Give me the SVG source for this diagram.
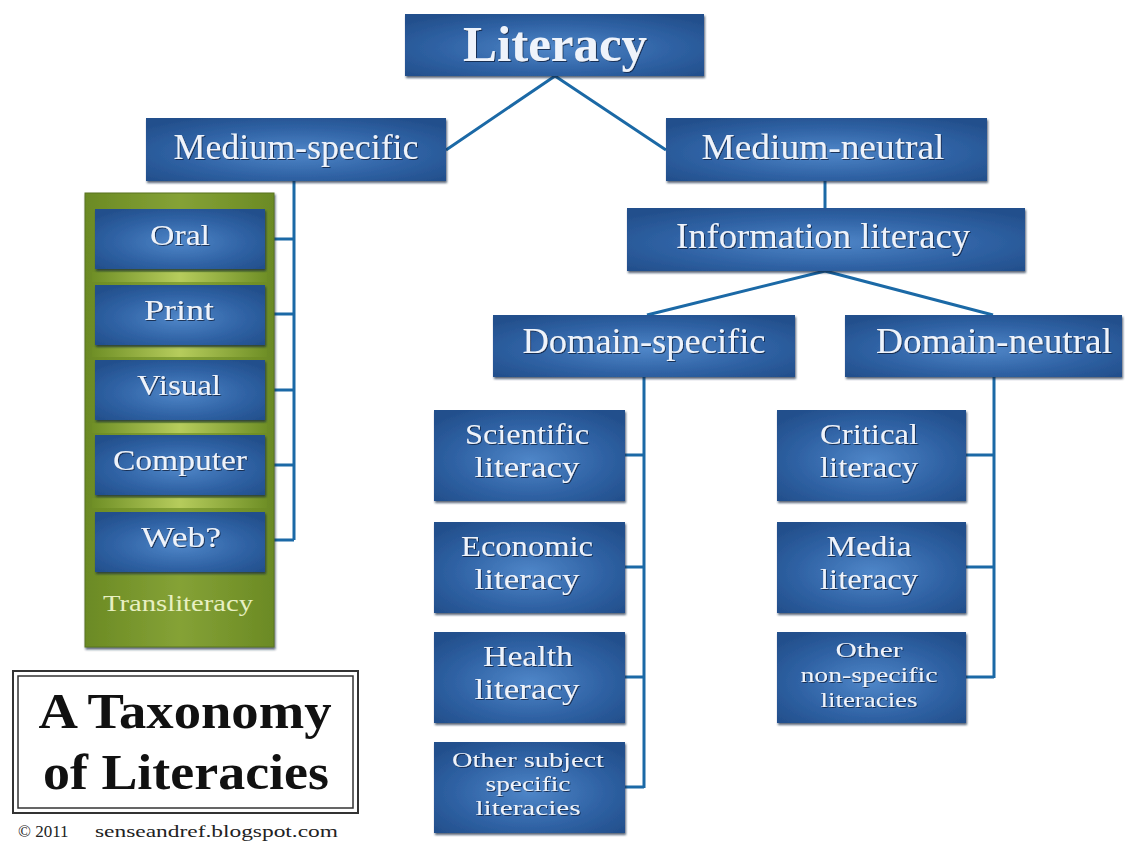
<svg xmlns="http://www.w3.org/2000/svg" width="1135" height="841" viewBox="0 0 1135 841">
<defs>
<radialGradient id="bg" cx="50%" cy="55%" r="65%">
<stop offset="0" stop-color="#4f86c8"/>
<stop offset="0.6" stop-color="#2f62a4"/>
<stop offset="1" stop-color="#234f8c"/>
</radialGradient>
<linearGradient id="gband" x1="0" y1="0" x2="1" y2="0">
<stop offset="0" stop-color="#6f8f26"/>
<stop offset="0.5" stop-color="#b6cc5c"/>
<stop offset="1" stop-color="#6f8f26"/>
</linearGradient>
<linearGradient id="gpanel" x1="0" y1="0" x2="1" y2="0">
<stop offset="0" stop-color="#6b8a24"/>
<stop offset="0.5" stop-color="#85a236"/>
<stop offset="1" stop-color="#6b8a24"/>
</linearGradient>
<filter id="sh" x="-5%" y="-10%" width="110%" height="125%">
<feDropShadow dx="1" dy="2" stdDeviation="1.2" flood-color="#0d2240" flood-opacity="0.7"/>
</filter>
<filter id="tsh" x="-5%" y="-20%" width="110%" height="140%">
<feDropShadow dx="1" dy="1" stdDeviation="0.6" flood-color="#0d2240" flood-opacity="0.8"/>
</filter>
</defs>
<style>
.box{fill:url(#bg);filter:url(#sh)}
.t{font-family:"Liberation Serif","Times New Roman",serif;fill:#eef3fb;text-anchor:middle;filter:url(#tsh)}
.l1{font-size:35px}
.l2{font-size:30px}
.l3{font-size:22px}
.con{stroke:#1b69a6;stroke-width:3;fill:none}
.title{font-family:"Liberation Serif","Times New Roman",serif;font-weight:bold;font-size:50px;fill:#111;text-anchor:middle}
</style>
<rect width="1135" height="841" fill="#ffffff"/>

<g id="connectors">
<path class="con" d="M555,76 L446,150 M555,76 L666,150"/>
<path class="con" d="M294,181 L294,540 M265,239 H294 M265,314 H294 M265,390 H294 M265,465 H294 M265,540 H294"/>
<path class="con" d="M825,181 V208"/>
<path class="con" d="M825,271 L647,315 M825,271 L993,315"/>
<path class="con" d="M644,377 V788 M625,455 H644 M625,567 H644 M625,677 H644 M625,787 H644"/>
<path class="con" d="M994,377 V678 M966,455 H994 M966,567 H994 M966,677 H994"/>
</g>

<g id="literacy">
<rect class="box" x="405" y="14" width="299" height="62"/>
<text class="t" x="555" y="61" style="font-size:50px;font-weight:bold" textLength="184" lengthAdjust="spacingAndGlyphs">Literacy</text>
</g>
<g id="medium-specific">
<rect class="box" x="146" y="118" width="300" height="63"/>
<text class="t l1" x="296" y="159" textLength="245" lengthAdjust="spacingAndGlyphs">Medium-specific</text>
</g>
<g id="medium-neutral">
<rect class="box" x="666" y="118" width="321" height="63"/>
<text class="t l1" x="823" y="159" textLength="243" lengthAdjust="spacingAndGlyphs">Medium-neutral</text>
</g>
<g id="information-literacy">
<rect class="box" x="627" y="208" width="398" height="63"/>
<text class="t l1" x="823" y="248" textLength="294" lengthAdjust="spacingAndGlyphs">Information literacy</text>
</g>
<g id="domain-specific">
<rect class="box" x="493" y="315" width="302" height="62"/>
<text class="t l1" x="644" y="353" textLength="243" lengthAdjust="spacingAndGlyphs">Domain-specific</text>
</g>
<g id="domain-neutral">
<rect class="box" x="845" y="315" width="277" height="62"/>
<text class="t l1" x="994" y="353" textLength="236" lengthAdjust="spacingAndGlyphs">Domain-neutral</text>
</g>

<g id="transliteracy">
<rect x="85" y="193" width="189" height="454" fill="url(#gpanel)" stroke="#5a7520" stroke-width="1" filter="url(#sh)"/>
<rect x="92" y="272" width="175" height="10" fill="url(#gband)"/>
<rect x="92" y="347" width="175" height="10" fill="url(#gband)"/>
<rect x="92" y="423" width="175" height="10" fill="url(#gband)"/>
<rect x="92" y="498" width="175" height="10" fill="url(#gband)"/>
<text x="178" y="611" style="font-family:'Liberation Serif','Times New Roman',serif;font-size:23px;fill:#e8f0c2;text-anchor:middle" textLength="150" lengthAdjust="spacingAndGlyphs">Transliteracy</text>
</g>
<g id="oral">
<rect class="box" x="95" y="209" width="170" height="60"/>
<text class="t l2" x="180" y="245" textLength="60" lengthAdjust="spacingAndGlyphs">Oral</text>
</g>
<g id="print">
<rect class="box" x="95" y="285" width="170" height="60"/>
<text class="t l2" x="179" y="320" textLength="70" lengthAdjust="spacingAndGlyphs">Print</text>
</g>
<g id="visual">
<rect class="box" x="95" y="360" width="170" height="60"/>
<text class="t l2" x="179" y="395" textLength="84" lengthAdjust="spacingAndGlyphs">Visual</text>
</g>
<g id="computer">
<rect class="box" x="95" y="435" width="170" height="60"/>
<text class="t l2" x="180" y="470" textLength="134" lengthAdjust="spacingAndGlyphs">Computer</text>
</g>
<g id="web">
<rect class="box" x="95" y="512" width="170" height="60"/>
<text class="t l2" x="181" y="547" textLength="80" lengthAdjust="spacingAndGlyphs">Web?</text>
</g>

<g id="scientific">
<rect class="box" x="434" y="410" width="191" height="91"/>
<text class="t l2" x="527" y="444" textLength="124" lengthAdjust="spacingAndGlyphs">Scientific</text>
<text class="t l2" x="527" y="477" textLength="105" lengthAdjust="spacingAndGlyphs">literacy</text>
</g>
<g id="economic">
<rect class="box" x="434" y="522" width="191" height="91"/>
<text class="t l2" x="527" y="556" textLength="132" lengthAdjust="spacingAndGlyphs">Economic</text>
<text class="t l2" x="527" y="589" textLength="105" lengthAdjust="spacingAndGlyphs">literacy</text>
</g>
<g id="health">
<rect class="box" x="434" y="632" width="191" height="91"/>
<text class="t l2" x="528" y="666" textLength="90" lengthAdjust="spacingAndGlyphs">Health</text>
<text class="t l2" x="527" y="699" textLength="105" lengthAdjust="spacingAndGlyphs">literacy</text>
</g>
<g id="other-subject">
<rect class="box" x="434" y="742" width="191" height="91"/>
<text class="t l3" x="528" y="767" textLength="152" lengthAdjust="spacingAndGlyphs">Other subject</text>
<text class="t l3" x="528" y="791" textLength="85" lengthAdjust="spacingAndGlyphs">specific</text>
<text class="t l3" x="528" y="815" textLength="105" lengthAdjust="spacingAndGlyphs">literacies</text>
</g>

<g id="critical">
<rect class="box" x="777" y="410" width="189" height="91"/>
<text class="t l2" x="869" y="444" textLength="98" lengthAdjust="spacingAndGlyphs">Critical</text>
<text class="t l2" x="869" y="477" textLength="98" lengthAdjust="spacingAndGlyphs">literacy</text>
</g>
<g id="media">
<rect class="box" x="777" y="522" width="189" height="91"/>
<text class="t l2" x="869" y="556" textLength="85" lengthAdjust="spacingAndGlyphs">Media</text>
<text class="t l2" x="869" y="589" textLength="98" lengthAdjust="spacingAndGlyphs">literacy</text>
</g>
<g id="other-nonspecific">
<rect class="box" x="777" y="632" width="189" height="91"/>
<text class="t l3" x="869" y="657" textLength="67" lengthAdjust="spacingAndGlyphs">Other</text>
<text class="t l3" x="869" y="682" textLength="137" lengthAdjust="spacingAndGlyphs">non-specific</text>
<text class="t l3" x="869" y="707" textLength="97" lengthAdjust="spacingAndGlyphs">literacies</text>
</g>

<g id="title">
<rect x="13" y="671" width="345" height="142" fill="#ffffff" stroke="#333" stroke-width="2"/>
<rect x="18" y="676" width="335" height="132" fill="none" stroke="#333" stroke-width="1.5"/>
<text class="title" x="185" y="728" textLength="293" lengthAdjust="spacingAndGlyphs">A Taxonomy</text>
<text class="title" x="186" y="789" textLength="286" lengthAdjust="spacingAndGlyphs">of Literacies</text>
<text x="18" y="837" style="font-family:'Liberation Serif','Times New Roman',serif;font-size:17px;fill:#222">© 2011</text>
<text x="95" y="837" style="font-family:'Liberation Serif','Times New Roman',serif;font-size:17px;fill:#222" textLength="243" lengthAdjust="spacingAndGlyphs">senseandref.blogspot.com</text>
</g>
</svg>
